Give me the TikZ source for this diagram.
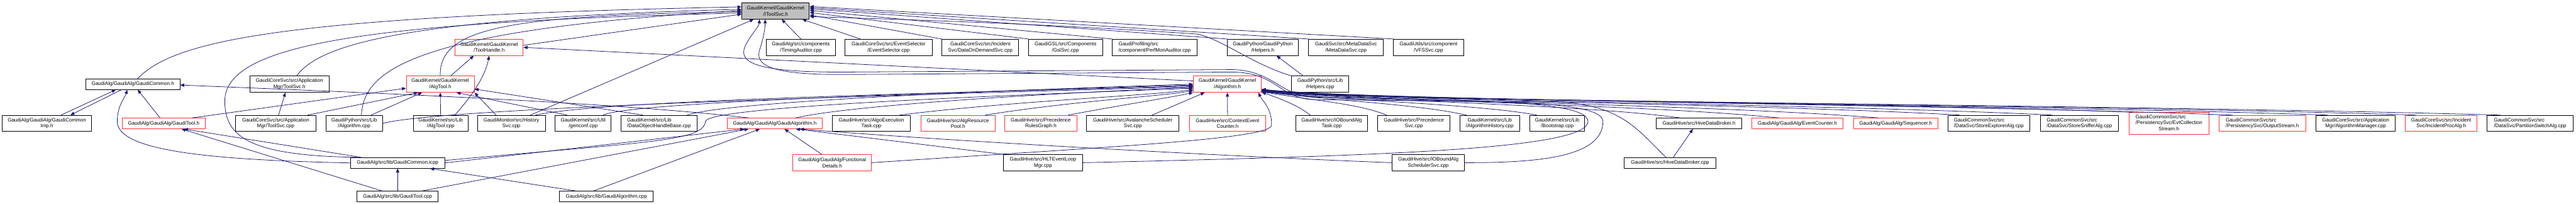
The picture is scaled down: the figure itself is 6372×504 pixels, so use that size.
\documentclass[tikz,border=0pt]{standalone}
\usepackage{fontspec}
\setmainfont{Liberation Sans}
\usepackage{tikz}
\usetikzlibrary{arrows.meta}
\definecolor{edgeblue}{HTML}{191970}
\definecolor{boxgray}{HTML}{BFBFBF}
\definecolor{boxred}{HTML}{FF3030}
\tikzset{
  every picture/.style={line join=round, line cap=round},
  file/.style={draw=black, line width=1.4pt, fill=white, rectangle, inner xsep=2pt, inner ysep=2pt,
    minimum height=40pt, align=center, font=\fontsize{12.5}{15}\selectfont},
  redfile/.style={file, draw=boxred},
  topfile/.style={file, fill=boxgray},
  dep/.style={draw=edgeblue, line width=1.2pt, -{Triangle[length=10pt,width=8pt]}},
}

\begin{document}
\begin{tikzpicture}[x=1pt,y=-1pt]
\fill[white] (0,0) rectangle (6372,504);
\path[use as bounding box] (0,0) rectangle (6372,504);
% rank 0
\node[topfile, minimum width=167pt] (itoolsvc) at (1918.5,27) {GaudiKernel/GaudiKernel\\/IToolSvc.h};
% rank 1
\node[redfile, minimum width=168pt] (toolhandle) at (1210,117) {GaudiKernel/GaudiKernel\\/ToolHandle.h};
\node[file, minimum width=172pt] (timingaud) at (1981,117) {GaudiAlg/src/components\\/TimingAuditor.cpp};
\node[file, minimum width=216pt] (evtsel) at (2198,117) {GaudiCoreSvc/src/EventSelector\\/EventSelector.cpp};
\node[file, minimum width=190pt] (dataondemand) at (2425,117) {GaudiCoreSvc/src/Incident\\Svc/DataOnDemandSvc.cpp};
\node[file, minimum width=183pt] (gslsvc) at (2635.5,117) {GaudiGSL/src/Components\\/GslSvc.cpp};
\node[file, minimum width=210pt, align=left] (perfmon) at (2856,117) {GaudiProfiling/src\\/component/PerfMonAuditor.cpp};
\node[file, minimum width=175pt] (helpersh) at (3123.5,117) {GaudiPython/GaudiPython\\/Helpers.h};
\node[file, minimum width=185pt] (metadata) at (3329.5,117) {GaudiSvc/src/MetaDataSvc\\/MetaDataSvc.cpp};
\node[file, minimum width=173pt] (vfssvc) at (3533.5,117) {GaudiUtils/src/component\\/VFSSvc.cpp};
% rank 2
\node[file, minimum width=233pt, minimum height=26pt] (gaudicommonh) at (328.5,208) {GaudiAlg/GaudiAlg/GaudiCommon.h};
\node[file, minimum width=196pt] (toolsvch) at (716,208) {GaudiCoreSvc/src/Application\\Mgr/ToolSvc.h};
\node[redfile, minimum width=168pt] (algtoolh) at (1089,208) {GaudiKernel/GaudiKernel\\/AlgTool.h};
\node[redfile, minimum width=168pt] (algorithmh) at (3036,208) {GaudiKernel/GaudiKernel\\/Algorithm.h};
\node[file, minimum width=141pt] (helperscpp) at (3265.5,208) {GaudiPython/src/Lib\\/Helpers.cpp};
% rank 3
\node[file, minimum width=222pt] (commonimp) at (116,305) {GaudiAlg/GaudiAlg/GaudiCommon\\Imp.h};
\node[redfile, minimum width=206pt, minimum height=26pt] (gaudittoolh) at (405,305) {GaudiAlg/GaudiAlg/GaudiTool.h};
\node[file, minimum width=198pt] (toolsvccpp) at (682,305) {GaudiCoreSvc/src/Application\\Mgr/ToolSvc.cpp};
\node[file, minimum width=140pt] (pyalgcpp) at (876,305) {GaudiPython/src/Lib\\/Algorithm.cpp};
\node[file, minimum width=136pt] (algtoolcpp) at (1090,305) {GaudiKernel/src/Lib\\/AlgTool.cpp};
\node[file, minimum width=168pt] (historysvc) at (1265,305) {GaudiMonitor/src/History\\Svc.cpp};
\node[file, minimum width=139pt] (genconf) at (1442.5,305) {GaudiKernel/src/Util\\/genconf.cpp};
\node[file, minimum width=188pt, align=left] (dohbase) at (1630,305) {GaudiKernel/src/Lib\\/DataObjectHandleBase.cpp};
\node[redfile, minimum width=235pt, minimum height=26pt] (gaudialgh) at (1916.5,305) {GaudiAlg/GaudiAlg/GaudiAlgorithm.h};
\node[file, minimum width=193pt] (algoexec) at (2155.5,305) {GaudiHive/src/AlgoExecution\\Task.cpp};
\node[redfile, minimum width=183pt] (algrespool) at (2369.5,305) {GaudiHive/src/AlgResource\\Pool.h};
\node[redfile, minimum width=179pt] (prgraph) at (2574.5,305) {GaudiHive/src/Precedence\\RulesGraph.h};
\node[file, minimum width=228pt] (avalanche) at (2802,305) {GaudiHive/src/AvalancheScheduler\\Svc.cpp};
\node[redfile, minimum width=189pt] (ctxcounter) at (3036.5,305) {GaudiHive/src/ContextEvent\\Counter.h};
\node[file, minimum width=178pt] (ioboundtask) at (3294,305) {GaudiHive/src/IOBoundAlg\\Task.cpp};
\node[file, minimum width=179pt] (precsvc) at (3497.5,305) {GaudiHive/src/Precedence\\Svc.cpp};
\node[file, minimum width=148pt] (alghistory) at (3685,305) {GaudiKernel/src/Lib\\/AlgorithmHistory.cpp};
\node[file, minimum width=136pt] (bootstrap) at (3852,305) {GaudiKernel/src/Lib\\/Bootstrap.cpp};
\node[file, minimum width=213pt, minimum height=26pt] (hivebrokerh) at (4202.5,305) {GaudiHive/src/HiveDataBroker.h};
\node[redfile, minimum width=226pt, minimum height=26pt] (evtcounter) at (4446,305) {GaudiAlg/GaudiAlg/EventCounter.h};
\node[redfile, minimum width=208pt, minimum height=26pt] (sequencer) at (4689,305) {GaudiAlg/GaudiAlg/Sequencer.h};
\node[file, minimum width=203pt, align=left] (storeexplorer) at (4919.5,305) {GaudiCommonSvc/src\\/DataSvc/StoreExplorerAlg.cpp};
\node[file, minimum width=193pt, align=left] (storesniffer) at (5143.5,305) {GaudiCommonSvc/src\\/DataSvc/StoreSnifferAlg.cpp};
\node[redfile, minimum width=198pt, minimum height=54pt] (evtcollstream) at (5365,305)
  {\begin{tabular}{@{}l@{}}GaudiCommonSvc/src\\/PersistencySvc/EvtCollection\\\multicolumn{1}{@{}c@{}}{Stream.h}\end{tabular}};
\node[redfile, minimum width=214pt, align=left] (outputstream) at (5596,305) {GaudiCommonSvc/src\\/PersistencySvc/OutputStream.h};
\node[file, minimum width=196pt] (algmanager) at (5827,305) {GaudiCoreSvc/src/Application\\Mgr/AlgorithmManager.cpp};
\node[redfile, minimum width=177pt] (incidentproc) at (6038.5,305) {GaudiCoreSvc/src/Incident\\Svc/IncidentProcAlg.h};
\node[file, minimum width=213pt, align=left] (partitionswitch) at (6258.5,305) {GaudiCommonSvc/src\\/DataSvc/PartitionSwitchAlg.cpp};
% rank 4
\node[file, minimum width=233pt, minimum height=26pt] (commonicpp) at (983.5,402.5) {GaudiAlg/src/lib/GaudiCommon.icpp};
\node[redfile, minimum width=195pt] (functdetails) at (2058.5,402) {GaudiAlg/GaudiAlg/Functional\\Details.h};
\node[file, minimum width=196pt] (hltloop) at (2580,402) {GaudiHive/src/HLTEventLoop\\Mgr.cpp};
\node[file, minimum width=178pt] (ioboundsched) at (3533,402) {GaudiHive/src/IOBoundAlg\\SchedulerSvc.cpp};
\node[file, minimum width=228pt, minimum height=26pt] (hivebrokercpp) at (4131,402.5) {GaudiHive/src/HiveDataBroker.cpp};
% rank 5
\node[file, minimum width=201pt, minimum height=26pt] (gaudtoolcpp) at (983.5,485.5) {GaudiAlg/src/lib/GaudiTool.cpp};
\node[file, minimum width=232pt, minimum height=26pt] (gaudalgcpp) at (1500,485.5) {GaudiAlg/src/lib/GaudiAlgorithm.cpp};

% includes of IToolSvc.h
\draw[dep] ([yshift=5pt]toolhandle.east) -- ([yshift=-8pt]itoolsvc.west);
\draw[dep] (algtoolh.north) .. controls (1086,70) and (1250,38) .. ([yshift=-2pt]itoolsvc.west);
\draw[dep] ([xshift=12pt]gaudicommonh.north) .. controls (430,100) and (700,40) .. ([yshift=10pt]itoolsvc.west);
\draw[dep] ([xshift=18pt]toolsvch.north) .. controls (790,110) and (1000,45) .. ([yshift=4pt]itoolsvc.west);
\draw[dep] ([xshift=-96pt]commonicpp.north) .. controls (620,385) and (556,340) .. (556,250)
  .. controls (556,110) and (900,55) .. ([yshift=-5pt]itoolsvc.west);
\draw[dep] ([xshift=18pt]pyalgcpp.north) .. controls (900,180) and (1000,75) .. ([yshift=1pt]itoolsvc.west);
\draw[dep] ([xshift=47pt]historysvc.north) -- ([xshift=-54pt]itoolsvc.south);
\draw[dep] (timingaud.north) -- ([xshift=15pt]itoolsvc.south);
\draw[dep] ([xshift=-70pt]evtsel.north) -- ([xshift=66pt]itoolsvc.south);
\draw[dep] (dataondemand.north west) -- ([yshift=-10pt]itoolsvc.east);
\draw[dep] (gslsvc.north west) -- ([yshift=-4pt]itoolsvc.east);
\draw[dep] (perfmon.north west) -- ([yshift=1pt]itoolsvc.east);
\draw[dep] (helpersh.north west) -- ([yshift=5pt]itoolsvc.east);
\draw[dep] (metadata.north west) -- ([yshift=8pt]itoolsvc.east);
\draw[dep] (vfssvc.north west) -- ([yshift=11pt]itoolsvc.east);
\draw[dep] (helperscpp.north west) .. controls (3100,160) and (3020,95) .. (2960,84)
  .. controls (2600,60) and (2300,50) .. ([yshift=-14pt]itoolsvc.east);
\draw[dep] (hltloop.east) .. controls (3400,385) and (3928,370) .. (3928,300)
  .. controls (3928,245) and (3600,248) .. (3250,240)
  .. controls (3170,238) and (3150,175) .. (3050,172) -- (2100,178)
  .. controls (1850,180) and (1825,150) .. (1845,110)
  .. controls (1858,85) and (1878,65) .. ([xshift=-40pt]itoolsvc.south);
\draw[dep] (ioboundsched.east) .. controls (3800,402) and (3965,390) .. (3965,300)
  .. controls (3965,240) and (3600,252) .. (3250,246)
  .. controls (3165,244) and (3160,180) .. (3050,178) -- (2100,184)
  .. controls (1900,186) and (1865,160) .. (1880,120)
  .. controls (1888,95) and (1893,70) .. ([xshift=-26pt]itoolsvc.south);

% ToolHandle.h and AlgTool.h
\draw[dep] ([xshift=26pt]algtoolh.north) -- ([xshift=-38pt]toolhandle.south);
\draw[dep] ([yshift=8pt]algorithmh.west) -- (toolhandle.east);
\draw[dep] ([xshift=35pt]algtoolcpp.north) .. controls (1165,240) and (1200,190) .. (toolhandle.south);
\draw[dep] ([xshift=70pt]gaudittoolh.north) -- ([yshift=-10pt]algtoolh.west);
\draw[dep] ([xshift=79pt]toolsvccpp.north) -- ([xshift=-55pt]algtoolh.south);
\draw[dep] ([xshift=42pt]pyalgcpp.north) -- ([xshift=-45pt]algtoolh.south);
\draw[dep] (algtoolcpp.north) -- (algtoolh.south);
\draw[dep] ([xshift=-38pt]historysvc.north) -- (algtoolh.south east);
\draw[dep] ([xshift=-40pt]genconf.north) -- ([xshift=40pt]algtoolh.south);
\draw[dep] ([xshift=-40pt]dohbase.north) -- ([yshift=-12pt]algtoolh.east);
\draw[dep] ([xshift=7pt]toolsvccpp.north) -- ([xshift=-10pt]toolsvch.south);

% GaudiCommon and GaudiTool
\draw[dep] ([xshift=35pt]commonimp.north) -- ([xshift=-42pt]gaudicommonh.south);
\draw[dep] ([xshift=-28pt]gaudicommonh.south) -- ([xshift=58pt]commonimp.north);
\draw[dep] ([xshift=-9pt]gaudittoolh.north) -- ([xshift=12pt]gaudicommonh.south);
\draw[dep] (commonicpp.west) .. controls (500,395) and (290,370) .. (290,300)
  .. controls (290,260) and (310,240) .. ([xshift=-14pt]gaudicommonh.south);
\draw[dep] ([xshift=-65pt]gaudialgh.north) .. controls (1500,250) and (800,225) .. ([yshift=-2pt]gaudicommonh.east);
\draw[dep] ([xshift=-90pt]commonicpp.north) -- ([xshift=50pt]gaudittoolh.south);
\draw[dep] ([xshift=-38pt]gaudtoolcpp.north) -- ([xshift=44pt]gaudittoolh.south);
\draw[dep] (gaudtoolcpp.north) -- (commonicpp.south);
\draw[dep] ([xshift=60pt]gaudtoolcpp.north) -- ([xshift=-65pt]gaudialgh.south);
\draw[dep] ([xshift=-75pt]gaudalgcpp.north) -- ([xshift=80pt]commonicpp.south);
\draw[dep] ([xshift=-32pt]gaudalgcpp.north) -- ([xshift=-37pt]gaudialgh.south);
\draw[dep] (commonicpp.east) -- ([xshift=-75pt]gaudialgh.south);
\draw[dep] ([xshift=-26pt]functdetails.north) -- ([xshift=24pt]gaudialgh.south);
\draw[dep] (hltloop.north west) -- ([xshift=52pt]gaudialgh.south);
\draw[dep] (ioboundsched.west) .. controls (3000,385) and (2300,345) .. ([xshift=62pt]gaudialgh.south);
\draw[dep] ([xshift=-42pt]helperscpp.north) -- ([xshift=34pt]helpersh.south);
\draw[dep] ([xshift=8pt]hivebrokercpp.north) -- ([xshift=-15pt]hivebrokerh.south);

% includes of Algorithm.h, from the left
\draw[dep] (pyalgcpp.east) .. controls (1100,262) and (2500,228) .. ([yshift=-6pt]algorithmh.west);
\draw[dep] ([xshift=60pt]historysvc.north) .. controls (1500,245) and (2500,226) .. ([yshift=-4pt]algorithmh.west);
\draw[dep] ([xshift=50pt]genconf.north) .. controls (1560,250) and (2500,224) .. ([yshift=-2pt]algorithmh.west);
\draw[dep] ([xshift=70pt]dohbase.north) .. controls (1800,250) and (2500,222) .. (algorithmh.west);
\draw[dep] ([xshift=52pt]gaudialgh.north) .. controls (2100,260) and (2600,230) .. ([yshift=-8pt]algorithmh.west);
\draw[dep] ([yshift=6pt]commonicpp.east) .. controls (1600,350) and (1740,350) .. (1745,300)
  .. controls (1750,260) and (2600,232) .. ([yshift=-10pt]algorithmh.west);
\draw[dep] ([xshift=70pt]algoexec.north) .. controls (2500,250) and (2850,236) .. ([yshift=-13pt]algorithmh.west);
\draw[dep] ([xshift=68pt]algrespool.north) .. controls (2650,250) and (2870,238) .. ([yshift=-16pt]algorithmh.west);
\draw[dep] ([xshift=68pt]prgraph.north) .. controls (2800,255) and (2900,240) .. (algorithmh.south west);
\draw[dep] ([xshift=48pt]avalanche.north) -- ([xshift=-56pt]algorithmh.south);
\draw[dep] (ctxcounter.north) -- (algorithmh.south);
\draw[dep] (functdetails.east) .. controls (2700,365) and (3140,345) .. (3145,310)
  .. controls (3148,270) and (3120,245) .. ([xshift=-8pt]algorithmh.south east);

% includes of Algorithm.h, from the right
\draw[dep] ([xshift=-53pt]ioboundtask.north) .. controls (3210,260) and (3170,245) .. ([yshift=1pt]algorithmh.south east);
\draw[dep] ([xshift=-68pt]precsvc.north) .. controls (3360,256) and (3260,250) .. ([yshift=2pt]algorithmh.south east);
\draw[dep] ([xshift=-58pt]alghistory.north) .. controls (3500,256) and (3300,250) .. ([yshift=3pt]algorithmh.south east);
\draw[dep] ([xshift=-51pt]bootstrap.north) .. controls (3650,256) and (3320,250) .. ([yshift=4pt]algorithmh.south east);
\draw[dep] ([xshift=-10pt]hivebrokercpp.north) .. controls (4050,320) and (4010,258) .. (3850,252)
  .. controls (3500,250) and (3320,250) .. ([yshift=3pt]algorithmh.south east);
\draw[dep] ([xshift=-46pt]hivebrokerh.north) .. controls (3900,256) and (3340,250) .. ([yshift=5pt]algorithmh.south east);
\draw[dep] ([xshift=-46pt]evtcounter.north) .. controls (4050,256) and (3350,250) .. ([yshift=6pt]algorithmh.south east);
\draw[dep] ([xshift=-43pt]sequencer.north) .. controls (4200,256) and (3360,250) .. ([yshift=6pt]algorithmh.south east);
\draw[dep] ([xshift=-72pt]storeexplorer.north) .. controls (4350,256) and (3370,249) .. ([yshift=7pt]algorithmh.south east);
\draw[dep] ([xshift=-67pt]storesniffer.north) .. controls (4500,256) and (3380,249) .. ([yshift=7pt]algorithmh.south east);
\draw[dep] ([xshift=-90pt]evtcollstream.north) .. controls (4650,254) and (3390,249) .. ([yshift=8pt]algorithmh.south east);
\draw[dep] ([xshift=-74pt]outputstream.north) .. controls (4800,257) and (3400,249) .. ([yshift=8pt]algorithmh.south east);
\draw[dep] ([xshift=-70pt]algmanager.north) .. controls (4950,257) and (3400,250) .. ([yshift=5pt]algorithmh.south east);
\draw[dep] ([xshift=-62pt]incidentproc.north) .. controls (5100,257) and (3400,250) .. ([yshift=4pt]algorithmh.south east);
\draw[dep] ([xshift=-74pt]partitionswitch.north) .. controls (5250,258) and (3400,250) .. ([yshift=2pt]algorithmh.south east);
\end{tikzpicture}
\end{document}
